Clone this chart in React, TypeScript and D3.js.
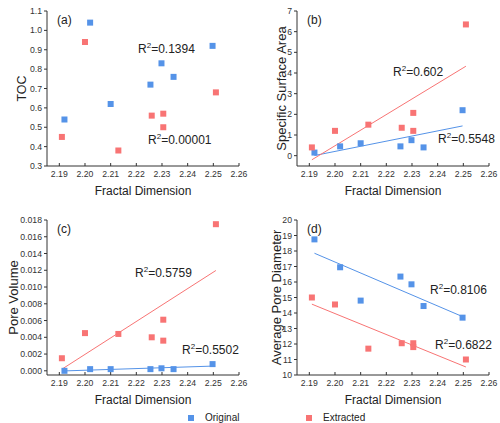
import React from 'react'
import * as d3 from 'd3'

// fractal dimension (x) for each sample
const origX = [2.192, 2.202, 2.21, 2.2255, 2.2298, 2.2345, 2.2497]
const extrX = [2.191, 2.2, 2.213, 2.226, 2.2305, 2.2305, 2.251]

const tocOrig = [0.54, 1.04, 0.62, 0.72, 0.83, 0.76, 0.92]
const tocExtr = [0.45, 0.94, 0.38, 0.56, 0.57, 0.5, 0.68]

const ssaOrig = [0.15, 0.45, 0.6, 0.45, 0.75, 0.4, 2.2]
const ssaExtr = [0.4, 1.2, 1.5, 1.35, 2.07, 1.2, 6.35]

const pvOrig = [0.0, 0.0002, 0.0002, 0.0002, 0.0003, 0.0002, 0.0008]
const pvExtr = [0.0015, 0.0045, 0.0044, 0.004, 0.0061, 0.0036, 0.0175]

const apdOrig = [18.75, 16.95, 14.8, 16.35, 15.85, 14.45, 13.7]
const apdExtr = [15.0, 14.55, 11.7, 12.05, 12.05, 11.8, 11.0]

const xTicks = [2.19, 2.2, 2.21, 2.22, 2.23, 2.24, 2.25, 2.26]

const BLUE = '#5593e8'
const RED = '#f87474'
const AXIS = '#333'
const FONT = 'Liberation Sans, Arial, sans-serif'

const fit = (xs, ys) => {
  const mx = d3.mean(xs), my = d3.mean(ys)
  const sxy = d3.sum(xs, (x, i) => (x - mx) * (ys[i] - my))
  const sxx = d3.sum(xs, x => (x - mx) * (x - mx))
  const b = sxy / sxx
  return x => my + b * (x - mx)
}

const R2 = ({x, y, v}) => (
  <text x={x} y={y} fontSize={12} fill="#222" fontFamily={FONT}>
    R<tspan dy={-5} fontSize={8}>2</tspan><tspan dy={5}>={v}</tspan>
  </text>
)

const Panel = ({left, top, letter, yLabel, labelOff, labelSize, yDomain, yTicks, yFmt, orig, extr, lines, r2a, r2b}) => {
  const x0 = left, x1 = left + 192
  const yTop = top, yBot = top + 155
  const x = d3.scaleLinear().domain([2.1852, 2.26]).range([x0, x1])
  const y = d3.scaleLinear().domain(yDomain).range([yBot, yTop])
  const fo = fit(origX, orig), fe = fit(extrX, extr)
  return (
    <g fontFamily={FONT}>
      <line x1={x0} x2={x0} y1={yTop} y2={yBot} stroke={AXIS} />
      <line x1={x0} x2={x1} y1={yBot} y2={yBot} stroke={AXIS} />
      {yTicks.map(t => (
        <g key={t}>
          <line x1={x0 - 3} x2={x0} y1={y(t)} y2={y(t)} stroke={AXIS} />
          <text x={x0 - 5} y={y(t)} dy="0.35em" textAnchor="end" fontSize={8.7} fill="#333">{yFmt(t)}</text>
        </g>
      ))}
      {xTicks.map(t => (
        <g key={t}>
          <line x1={x(t)} x2={x(t)} y1={yBot} y2={yBot - 3} stroke={AXIS} />
          <text x={x(t)} y={yBot + 11} textAnchor="middle" fontSize={8.7} fill="#333">{t.toFixed(2)}</text>
        </g>
      ))}
      <text x={(x0 + x1) / 2} y={yBot + 29} textAnchor="middle" fontSize={12} fill="#222">Fractal Dimension</text>
      <text transform={`translate(${x0 - labelOff},${(yTop + yBot) / 2}) rotate(-90)`} dy="0.35em" textAnchor="middle" fontSize={labelSize} fill="#222">{yLabel}</text>
      <text x={x0 + 10} y={yTop + 13} fontSize={12} fill="#222">{letter}</text>
      {lines && (
        <g>
          <line x1={x(origX[0])} x2={x(origX[6])} y1={y(fo(origX[0]))} y2={y(fo(origX[6]))} stroke={BLUE} strokeWidth={1} />
          <line x1={x(extrX[0])} x2={x(extrX[6])} y1={y(fe(extrX[0]))} y2={y(fe(extrX[6]))} stroke={RED} strokeWidth={1} />
        </g>
      )}
      {orig.map((v, i) => <rect key={'o' + i} x={x(origX[i]) - 3} y={y(v) - 3} width={6} height={6} fill={BLUE} />)}
      {extr.map((v, i) => <rect key={'e' + i} x={x(extrX[i]) - 3} y={y(v) - 3} width={6} height={6} fill={RED} />)}
      <R2 {...r2a} />
      <R2 {...r2b} />
    </g>
  )
}

export default function App() {
  return (
    <svg width={500} height={423} style={{position: 'absolute', left: 0, top: 0}}>
      <rect width={500} height={423} fill="#fff" />
      <Panel left={47} top={11} letter="(a)" yLabel="TOC" labelOff={25} labelSize={12.5} yDomain={[0.3, 1.1]}
        yTicks={d3.range(0.3, 1.15, 0.1)} yFmt={t => t.toFixed(1)}
        orig={tocOrig} extr={tocExtr} lines={false}
        r2a={{x: 138, y: 53, v: '0.1394'}} r2b={{x: 148, y: 144, v: '0.00001'}} />
      <Panel left={297} top={11} letter="(b)" yLabel="Specific Surface Area" labelOff={16} labelSize={13} yDomain={[-0.5, 7]}
        yTicks={d3.range(0, 8)} yFmt={t => String(t)}
        orig={ssaOrig} extr={ssaExtr} lines={true}
        r2a={{x: 393, y: 76, v: '0.602'}} r2b={{x: 438, y: 143, v: '0.5548'}} />
      <Panel left={47} top={220} letter="(c)" yLabel="Pore Volume" labelOff={34} labelSize={13} yDomain={[-0.0005, 0.018]}
        yTicks={d3.range(0, 0.0181, 0.002)} yFmt={t => t.toFixed(3)}
        orig={pvOrig} extr={pvExtr} lines={true}
        r2a={{x: 135, y: 277, v: '0.5759'}} r2b={{x: 182, y: 354, v: '0.5502'}} />
      <Panel left={297} top={220} letter="(d)" yLabel="Average Pore Diameter" labelOff={21} labelSize={13} yDomain={[10, 20]}
        yTicks={d3.range(10, 21)} yFmt={t => String(t)}
        orig={apdOrig} extr={apdExtr} lines={true}
        r2a={{x: 430, y: 294, v: '0.8106'}} r2b={{x: 435, y: 349, v: '0.6822'}} />
      <g fontFamily={FONT} fontSize={10} fill="#222">
        <rect x={188} y={415} width={6} height={6} fill={BLUE} />
        <text x={205} y={421}>Original</text>
        <rect x={306} y={415} width={6} height={6} fill={RED} />
        <text x={323} y={421}>Extracted</text>
      </g>
    </svg>
  )
}
